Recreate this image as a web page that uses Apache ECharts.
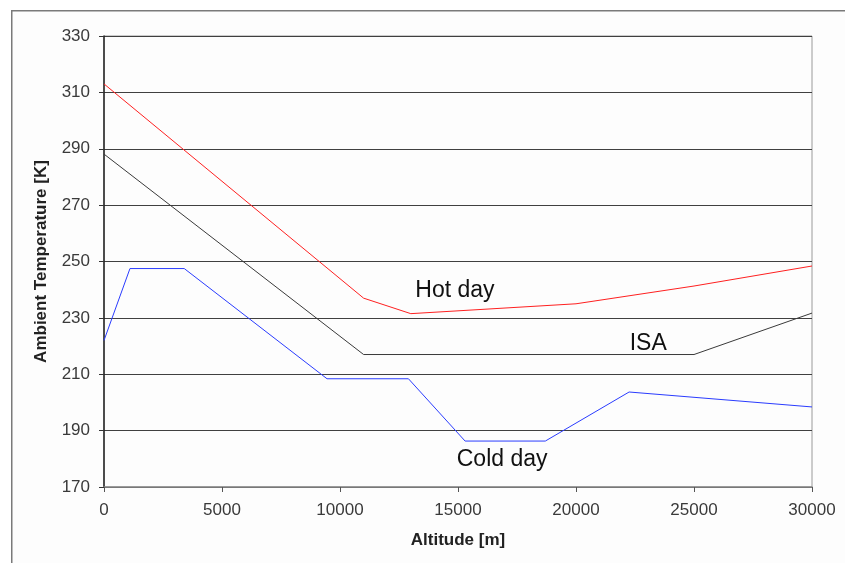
<!DOCTYPE html>
<html>
<head>
<meta charset="utf-8">
<script src="https://cdn.jsdelivr.net/npm/echarts@6/dist/echarts.min.js"></script>
<style>
  html, body { margin: 0; padding: 0; background: #fff; }
  #main { width: 845px; height: 563px; }
</style>
</head>
<body>
<div id="main"></div>
<script>
const myChart = echarts.init(document.querySelector('#main'))

// altitude [m], temperature [K]
const hotDay = [[0, 313], [11000, 237], [13000, 231.5], [20000, 235], [25000, 241.3], [30000, 248.4]]
const isa = [[0, 288.1], [11000, 217], [25000, 217], [30000, 231.7]]
const coldDay = [[0, 222], [1100, 247.5], [3400, 247.5], [9450, 208.4], [12900, 208.4],
  [15300, 186.3], [18700, 186.3], [22250, 203.7], [30000, 198.4]]

// label anchor points in data space
const labels = [
  { name: 'Hot day', coord: [14870, 239.8] },
  { name: 'ISA', coord: [23060, 221] },
  { name: 'Cold day', coord: [16870, 179.8] }
]

const FONT = 'Liberation Sans, Arial, sans-serif'

function lineSeries(name, data, color, lbl) {
  return {
    name: name,
    type: 'line',
    data: data,
    symbol: 'none',
    lineStyle: { color: color, width: 1 },
    markPoint: {
      symbol: 'rect',
      symbolSize: 1,
      silent: true,
      itemStyle: { color: 'transparent' },
      label: {
        show: true,
        formatter: lbl.name,
        color: '#111',
        fontSize: 23,
        fontFamily: FONT,
        position: 'inside'
      },
      data: [{ coord: lbl.coord }]
    }
  }
}

let option = {
  backgroundColor: '#ffffff',
  animation: false,
  graphic: [
    {
      type: 'rect',
      left: 11, top: 10,
      shape: { width: 900, height: 600 },
      style: { fill: '#fdfdfd', stroke: '#7a7a7a', lineWidth: 1.5 },
      z: -10
    }
  ],
  grid: {
    left: 104,
    right: 33,
    top: 36,
    bottom: 76,
    show: true,
    backgroundColor: '#fdfdfd',
    borderColor: '#9a9a9a',
    borderWidth: 1
  },
  xAxis: {
    type: 'value',
    min: 0,
    max: 30000,
    interval: 5000,
    name: 'Altitude [m]',
    nameLocation: 'middle',
    nameGap: 45,
    nameTextStyle: { fontSize: 17, fontWeight: 'bold', color: '#222', fontFamily: FONT },
    axisLine: { lineStyle: { color: '#8a8a8a', width: 1.5 } },
    axisTick: { show: true, length: 5, inside: false, lineStyle: { color: '#555' } },
    axisLabel: {
      fontSize: 17, color: '#3a3a3a', margin: 15, fontFamily: FONT,
      formatter: v => String(v)
    },
    splitLine: { show: false }
  },
  yAxis: {
    type: 'value',
    min: 170,
    max: 330,
    interval: 20,
    name: 'Ambient Temperature [K]',
    nameLocation: 'middle',
    nameGap: 54,
    nameRotate: 90,
    nameTextStyle: { fontSize: 17, fontWeight: 'bold', color: '#222', fontFamily: FONT },
    axisLine: { show: true, lineStyle: { color: '#222', width: 1.5 } },
    axisTick: { show: true, length: 5, inside: false, lineStyle: { color: '#333' } },
    axisLabel: { fontSize: 17, color: '#3a3a3a', margin: 14, fontFamily: FONT },
    splitLine: { show: true, lineStyle: { color: '#404040', width: 1.2 } }
  },
  series: [
    lineSeries('Hot day', hotDay, '#ff2020', labels[0]),
    lineSeries('ISA', isa, '#3a3a3a', labels[1]),
    lineSeries('Cold day', coldDay, '#2a3cff', labels[2])
  ]
};
option && myChart.setOption(option);
</script>
</body>
</html>
